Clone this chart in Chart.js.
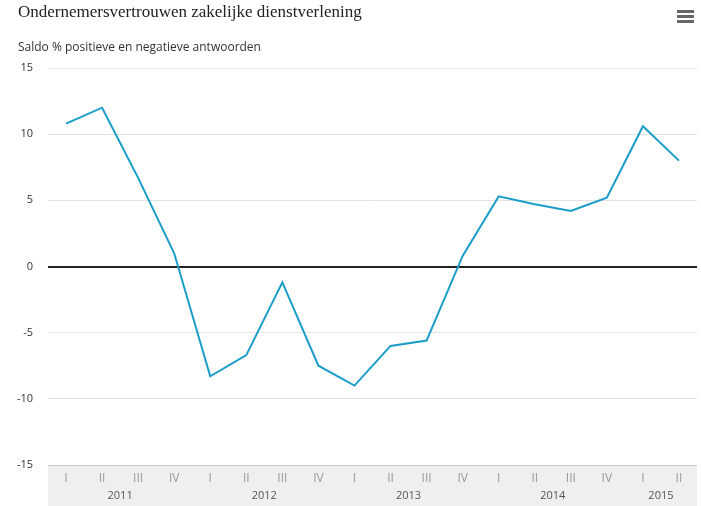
<!DOCTYPE html>
<html>
<head>
<meta charset="utf-8">
<script src="https://cdn.jsdelivr.net/npm/chart.js@4"></script>
<style>
  html, body { margin: 0; padding: 0; background: #fff; }
  #wrap { width: 701px; height: 506px; position: relative; }
</style>
</head>
<body>
<div id="wrap"><canvas id="chart"></canvas></div>
<script>
// data
const quarters = ['I','II','III','IV','I','II','III','IV','I','II','III','IV','I','II','III','IV','I','II'];
const years = ['2011','2012','2013','2014','2015'];
const yearStart = [0, 4, 8, 12, 16];
const yearEnd = [3, 7, 11, 15, 17];
const saldo = [10.8, 12.0, 6.7, 1.0, -8.3, -6.7, -1.2, -7.5, -9.0, -6.0, -5.6, 0.8, 5.3, 4.7, 4.2, 5.2, 10.6, 8.0];

const titleText = 'Ondernemersvertrouwen zakelijke dienstverlening';
const subtitleText = 'Saldo % positieve en negatieve antwoorden';

const sans = '"Open Sans", "DejaVu Sans", sans-serif';

// grey band under the plot, titles, menu icon, year labels
const decor = {
    id: 'decor',
    beforeDraw(chart) {
        const {ctx, chartArea} = chart;
        ctx.save();
        ctx.fillStyle = '#efefef';
        ctx.fillRect(chartArea.left, chartArea.bottom, chartArea.right - chartArea.left, chart.height - chartArea.bottom);
        ctx.restore();
    },
    afterDraw(chart) {
        const {ctx, chartArea} = chart;
        const x = chart.scales.x;
        ctx.save();
        // band border
        ctx.strokeStyle = '#c8c8c8';
        ctx.lineWidth = 1;
        ctx.beginPath();
        ctx.moveTo(chartArea.left, chartArea.bottom + 0.5);
        ctx.lineTo(chartArea.right, chartArea.bottom + 0.5);
        ctx.stroke();

        // years
        ctx.fillStyle = '#555';
        ctx.font = '11px ' + sans;
        ctx.textAlign = 'center';
        ctx.textBaseline = 'middle';
        years.forEach((y, i) => {
            const cx = (x.getPixelForValue(yearStart[i]) + x.getPixelForValue(yearEnd[i])) / 2;
            ctx.fillText(y, cx, chartArea.bottom + 31);
        });

        // titles
        ctx.textAlign = 'left';
        ctx.fillStyle = '#222';
        ctx.font = '17px "Liberation Serif", serif';
        ctx.fillText(titleText, 18, 13);
        ctx.fillStyle = '#333';
        ctx.font = '12px ' + sans;
        ctx.fillText(subtitleText, 18, 48);

        // menu icon
        ctx.fillStyle = '#666';
        [11, 16, 21].forEach(y => ctx.fillRect(677, y - 1, 17, 3));
        ctx.restore();
    }
};

const ctx = document.getElementById('chart').getContext('2d');
new Chart(ctx, {
    type: 'line',
    data: {
        labels: quarters,
        datasets: [{
            label: 'Saldo',
            data: saldo,
            borderColor: '#1b9dc9',
            borderWidth: 2,
            pointRadius: 0,
            tension: 0,
            fill: false
        }]
    },
    options: {
        responsive: true,
        maintainAspectRatio: false,
        animation: false,
        layout: { padding: { top: 68, right: 4, left: 0, bottom: 0 } },
        plugins: {
            legend: { display: false },
            tooltip: { enabled: false }
        },
        scales: {
            x: {
                offset: true,
                grid: { display: false, drawTicks: false },
                border: { display: false },
                ticks: { color: '#999', font: { size: 12, family: sans }, padding: 6, maxRotation: 0, autoSkip: false },
                afterFit: s => { s.height = 41; }
            },
            y: {
                min: -15,
                max: 15,
                grid: {
                    drawTicks: false,
                    color: c => c.tick.value === 0 ? '#222' : (c.tick.value === -15 ? 'rgba(0,0,0,0)' : '#e3e3e3'),
                    lineWidth: c => c.tick.value === 0 ? 2 : 1
                },
                border: { display: false },
                ticks: { stepSize: 5, color: '#333', font: { size: 11, family: sans }, padding: 15 },
                afterFit: s => { s.width = 48; }
            }
        }
    },
    plugins: [decor]
});
</script>
</body>
</html>
